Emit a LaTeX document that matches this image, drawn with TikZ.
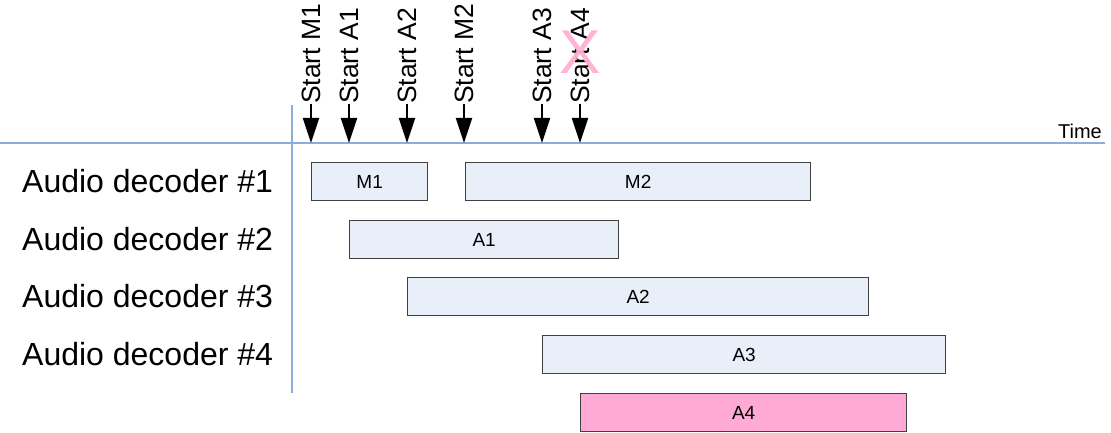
\documentclass[tikz,border=0pt]{standalone}
\usepackage{fontspec}
\setmainfont{Liberation Sans}
\usetikzlibrary{arrows.meta}
\definecolor{axisblue}{RGB}{143,170,220}
\definecolor{barfill}{RGB}{233,239,249}
\definecolor{barline}{RGB}{64,64,64}
\definecolor{pinkfill}{RGB}{255,170,212}
\definecolor{pinkx}{RGB}{255,176,212}
\tikzset{
  bar/.style={draw=barline, line width=1.3pt, fill=barfill, rectangle, inner sep=0pt, anchor=north west,
    font=\fontsize{19}{22}\selectfont},
  rowlabel/.style={anchor=base west, inner sep=0pt, font=\fontsize{32}{38}\selectfont},
  startlabel/.style={rotate=90, anchor=west, inner sep=0pt, font=\fontsize{26.5}{30}\selectfont},
  startarrow/.style={line width=2pt, -{Triangle[width=16pt,length=25pt]}},
  axis/.style={draw=axisblue, line width=1.2pt}
}
\begin{document}
\begin{tikzpicture}[x=1pt,y=-1pt]
\useasboundingbox (0,0) rectangle (1111,433);
% axes
\coordinate (hl) at (0,143);
\coordinate (hr) at (1105,143);
\coordinate (vt) at (292,105);
\coordinate (vb) at (292,393);
\draw[axis] (hl) -- (hr);
\draw[axis] (vt) -- (vb);
\node[anchor=base east, inner sep=0pt, font=\fontsize{20}{24}\selectfont] (time) at (1102,139) {Time};
% row labels
\node[rowlabel] (r1) at (22,192) {Audio decoder \#1};
\node[rowlabel] (r2) at (22,250) {Audio decoder \#2};
\node[rowlabel] (r3) at (22,307) {Audio decoder \#3};
\node[rowlabel] (r4) at (22,365) {Audio decoder \#4};
% bars
\node[bar, minimum width=116pt, minimum height=38pt] (m1) at (311,162) {M1};
\node[bar, minimum width=345pt, minimum height=38pt] (m2) at (465,162) {M2};
\node[bar, minimum width=269pt, minimum height=38pt] (a1) at (349,220) {A1};
\node[bar, minimum width=461pt, minimum height=38pt] (a2) at (407,277) {A2};
\node[bar, minimum width=403pt, minimum height=38pt] (a3) at (542,335) {A3};
\node[bar, fill=pinkfill, minimum width=326pt, minimum height=38pt] (a4) at (580,393) {A4};
% start labels and arrows
\foreach \n/\x/\t in {sm1/311/Start M1, sa1/349/Start A1, sa2/407/Start A2, sm2/464/Start M2, sa3/542/Start A3, sa4/580/Start A4}{
  \node[startlabel] (\n) at (\x,104) {\t};
  \coordinate (\n tip) at (\x,143);
  \draw[startarrow] (\n.west) -- (\n tip);
}
% cross over Start A4
\node[text=pinkx, opacity=0.95, inner sep=0pt, font=\fontsize{62}{70}\selectfont] (cross) at (580,52) {X};
\end{tikzpicture}
\end{document}
